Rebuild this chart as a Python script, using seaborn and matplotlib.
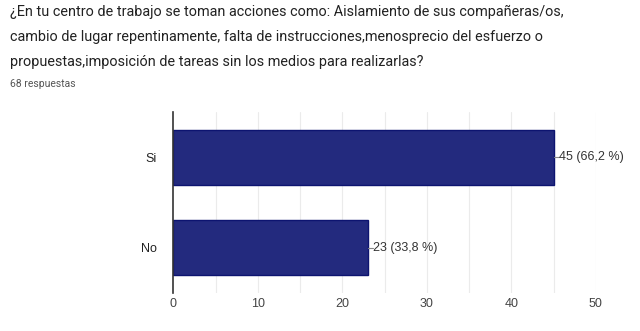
import matplotlib
matplotlib.use("Agg")
import matplotlib.pyplot as plt
import seaborn as sns
import pandas as pd

categories = ["Si", "No"]
counts = [45, 23]
percents = ["66,2", "33,8"]
total_responses = 68
x_ticks = [0, 10, 20, 30, 40, 50]

title = ("¿En tu centro de trabajo se toman acciones como: Aislamiento de sus compañeras/os,\n"
         "cambio de lugar repentinamente, falta de instrucciones,menosprecio del esfuerzo o\n"
         "propuestas,imposición de tareas sin los medios para realizarlas?")

sns.set_theme(style="white")
plt.rcParams["font.family"] = ["Roboto", "DejaVu Sans"]
chart_font = ["Liberation Sans", "DejaVu Sans"]

df = pd.DataFrame({"categoria": categories, "respuestas": counts})

fig = plt.figure(figsize=(6.4, 3.31), dpi=100)
ax = fig.add_axes([0.271, 0.115, 0.66, 0.547])

# light vertical grid every 5 units
for v in range(5, 55, 5):
    ax.axvline(v, color="#ebebeb", lw=0.8, zorder=0)

sns.barplot(data=df, x="respuestas", y="categoria", orient="h", ax=ax,
            color="#232a7e", edgecolor="#0d1470", linewidth=1.0,
            width=0.61, saturation=1, zorder=2)

ax.set_xlim(0, 50)
ax.set_ylim(1.5, -0.5)
ax.set_xticks(x_ticks)
ax.set_xticklabels([str(t) for t in x_ticks], fontsize=9, color="#444444",
                   family=chart_font)
for lbl in ax.get_yticklabels():
    lbl.set_family(chart_font)
ax.set_xlabel("")
ax.set_ylabel("")
ax.tick_params(axis="y", labelsize=9, labelcolor="#222222", length=0, pad=12)
ax.tick_params(axis="x", length=0, pad=4)

for s in ["top", "right", "bottom"]:
    ax.spines[s].set_visible(False)
ax.spines["left"].set_color("#333333")
ax.spines["left"].set_linewidth(1.2)
ax.spines["left"].set_zorder(3)

# value labels with a short leader line
for i, (c, p) in enumerate(zip(counts, percents)):
    ax.plot([c, c + 0.6], [i, i], color="#888888", lw=0.8, zorder=3, clip_on=False)
    ax.text(c + 0.62, i, f"{c} ({p} %)", va="center", ha="left",
            fontsize=9, color="#333333", clip_on=False, family=chart_font)

fig.text(0.016, 0.985, title, ha="left", va="top", fontsize=10.4,
         color="#222222", linespacing=2.0)
fig.text(0.016, 0.745, f"{total_responses} respuestas", ha="left", va="center",
         fontsize=7.5, color="#555555")

fig.savefig("out.png", dpi=100, facecolor="white")
